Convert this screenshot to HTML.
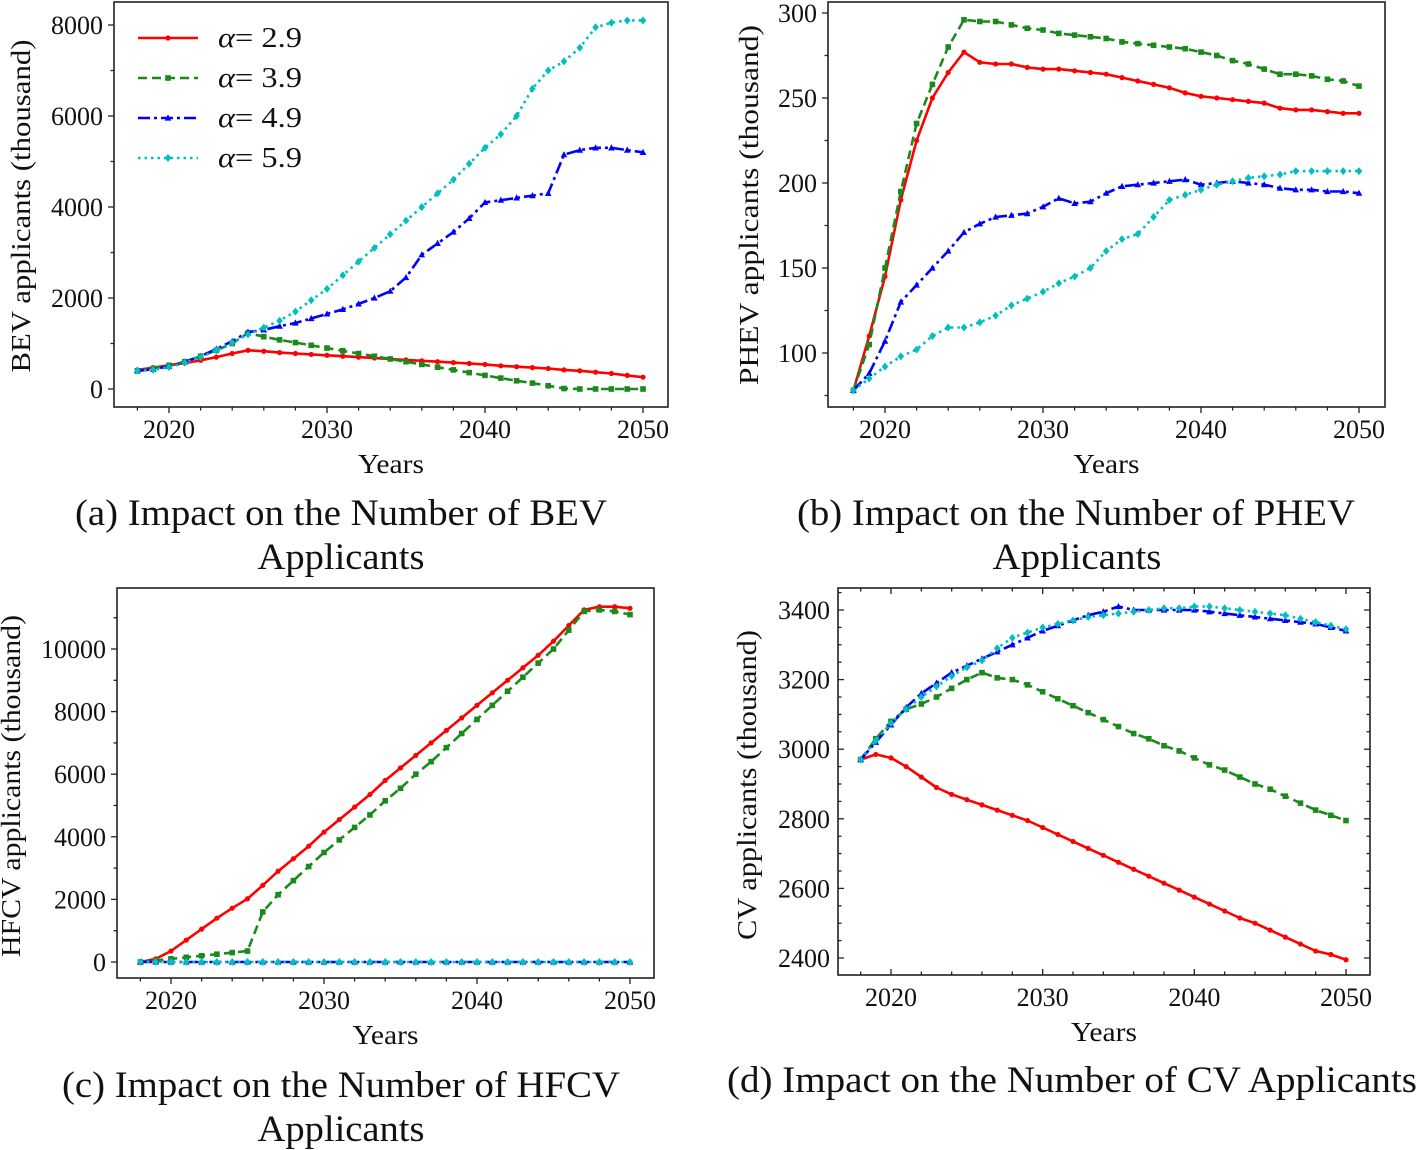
<!DOCTYPE html>
<html><head><meta charset="utf-8"><style>
body{margin:0;background:#fff;width:1417px;height:1150px;overflow:hidden}
svg{display:block}
text{font-family:"Liberation Serif",serif;fill:#111}
.cap{font-size:37px}
</style></head><body>
<svg id="fig" width="1417" height="1150" viewBox="0 0 1417 1150" xmlns="http://www.w3.org/2000/svg">
<text class="cap" x="341" y="525" text-anchor="middle" textLength="532" lengthAdjust="spacingAndGlyphs">(a) Impact on the Number of BEV</text>
<text class="cap" x="341" y="569" text-anchor="middle" textLength="167" lengthAdjust="spacingAndGlyphs">Applicants</text>
<text class="cap" x="1076" y="525" text-anchor="middle" textLength="558" lengthAdjust="spacingAndGlyphs">(b) Impact on the Number of PHEV</text>
<text class="cap" x="1077" y="569" text-anchor="middle" textLength="169" lengthAdjust="spacingAndGlyphs">Applicants</text>
<text class="cap" x="341" y="1097" text-anchor="middle" textLength="558" lengthAdjust="spacingAndGlyphs">(c) Impact on the Number of HFCV</text>
<text class="cap" x="341" y="1141" text-anchor="middle" textLength="167" lengthAdjust="spacingAndGlyphs">Applicants</text>
<text class="cap" x="1072" y="1092" text-anchor="middle" textLength="690" lengthAdjust="spacingAndGlyphs">(d) Impact on the Number of CV Applicants</text>
</svg>
<script>
const years = [];
for (let y = 2018; y <= 2050; y++) years.push(y);
const alphaLabels = ["α= 2.9","α= 3.9","α= 4.9","α= 5.9"];
// Panel (a) BEV
const bevA29 = [420,470,520,570,630,700,780,850,830,800,780,760,740,720,700,680,660,640,620,600,580,560,540,510,490,470,450,420,400,370,340,300,260];
const bevA39 = [400,450,520,600,720,850,1000,1230,1150,1080,1020,960,900,840,780,720,660,600,540,480,420,360,300,240,180,130,70,10,0,0,0,0,0];
const bevA49 = [400,430,500,600,720,880,1050,1250,1300,1380,1450,1550,1650,1750,1870,2000,2150,2450,2950,3200,3450,3750,4100,4150,4200,4250,4300,5150,5250,5300,5300,5250,5200];
const bevA59 = [400,420,480,580,700,850,1020,1200,1350,1500,1700,1950,2200,2500,2800,3100,3400,3700,4000,4300,4600,4950,5300,5600,6000,6600,7000,7200,7500,7950,8050,8100,8100];
const bevYTicks = [0,2000,4000,6000,8000];
// Panel (b) PHEV
const phevA29 = [78,110,145,190,225,250,265,277,271,270,270,268,267,267,266,265,264,262,260,258,256,253,251,250,249,248,247,244,243,243,242,241,241];
const phevA39 = [78,105,150,195,235,258,280,296,295,295,293,291,290,288,287,286,285,283,282,281,280,279,277,275,272,270,267,264,264,263,261,260,257];
const phevA49 = [78,88,107,130,140,150,160,171,176,180,181,182,186,191,188,189,194,198,199,200,201,202,199,200,201,200,199,197,196,196,195,195,194];
const phevA59 = [78,85,92,98,102,110,115,115,118,122,128,132,136,141,145,150,160,167,170,180,190,193,196,199,201,203,204,205,207,207,207,207,207];
const phevYTicks = [100,150,200,250,300];
// Panel (c) HFCV
const hfcvA29 = [0,100,350,700,1050,1400,1720,2020,2450,2900,3300,3700,4150,4550,4950,5350,5800,6200,6600,7000,7400,7800,8200,8600,9000,9400,9800,10250,10750,11250,11350,11350,11300];
const hfcvA39 = [0,50,100,150,200,250,300,350,1600,2150,2600,3050,3500,3900,4300,4700,5150,5550,6000,6400,6850,7300,7750,8200,8650,9100,9550,10000,10600,11200,11250,11200,11100];
const hfcvA49 = [0,0,0,0,0,0,0,0,0,0,0,0,0,0,0,0,0,0,0,0,0,0,0,0,0,0,0,0,0,0,0,0,0];
const hfcvA59 = [0,0,0,0,0,0,0,0,0,0,0,0,0,0,0,0,0,0,0,0,0,0,0,0,0,0,0,0,0,0,0,0,0];
const hfcvYTicks = [0,2000,4000,6000,8000,10000];
// Panel (d) CV
const cvA29 = [2970,2985,2975,2950,2920,2890,2870,2855,2840,2825,2810,2795,2775,2755,2735,2715,2695,2675,2655,2635,2615,2595,2575,2555,2535,2515,2500,2480,2460,2440,2420,2410,2395];
const cvA39 = [2970,3030,3080,3115,3130,3150,3175,3200,3220,3205,3200,3185,3165,3145,3125,3105,3085,3065,3045,3030,3010,2995,2975,2955,2940,2920,2900,2885,2865,2845,2825,2810,2795];
const cvA49 = [2970,3020,3070,3120,3160,3190,3220,3240,3260,3280,3300,3320,3340,3355,3370,3385,3395,3410,3400,3400,3400,3400,3400,3395,3390,3385,3380,3375,3370,3365,3360,3350,3340];
const cvA59 = [2970,3025,3075,3115,3150,3180,3210,3235,3255,3290,3320,3335,3350,3360,3370,3380,3385,3390,3395,3400,3405,3405,3410,3410,3405,3400,3395,3390,3385,3375,3365,3355,3345];
const cvYTicks = [2400,2600,2800,3000,3200,3400];
const xTicks = [2020,2030,2040,2050];

const NS = "http://www.w3.org/2000/svg";
const fig = document.getElementById("fig");
function mk(tag, attrs, parent){const e=document.createElementNS(NS,tag);for(const k in attrs)e.setAttribute(k,attrs[k]);(parent||fig).appendChild(e);return e;}

const styles = [
 {c:"#ff0000",dash:"",m:"circle"},
 {c:"#1a8a1a",dash:"9,5",m:"square"},
 {c:"#0000ff",dash:"12,4,3,4",m:"tri"},
 {c:"#00bfbf",dash:"2.5,4",m:"diamond"}
];

function marker(g, type, x, y, col){
  let e;
  if(type==="circle") e=mk("circle",{cx:x,cy:y,r:2.6,fill:col},g);
  else if(type==="square") e=mk("rect",{x:x-2.8,y:y-2.8,width:5.6,height:5.6,fill:col},g);
  else if(type==="tri") e=mk("polygon",{points:`${x},${y-3.6} ${x-3.3},${y+2.6} ${x+3.3},${y+2.6}`,fill:col},g);
  else e=mk("polygon",{points:`${x},${y-4} ${x+3.3},${y} ${x},${y+4} ${x-3.3},${y}`,fill:col},g);
  
  
}

function panel(p){
  const g=mk("g",{});
  
  
  const sx=v=>p.x0+(v-2020)*(p.x1-p.x0)/30;
  const sy=v=>p.yb0+(v-p.yt[0])*(p.yb1-p.yb0)/(p.yt[p.yt.length-1]-p.yt[0]);
  const frame=mk("rect",{x:p.L,y:p.T,width:p.R-p.L,height:p.B-p.T,fill:"none",stroke:"#222","stroke-width":1.6},g);
  
  
  const dir=p.inward?-1:1;
  for(let yr=2018;yr<=2050;yr+=2){
    const x=sx(yr), maj=xTicks.includes(yr), len=maj?6:3.5;
    mk("line",{x1:x,y1:p.B,x2:x,y2:p.B+dir*len,stroke:"#222","stroke-width":1.3},g);
    if(p.inward) mk("line",{x1:x,y1:p.T,x2:x,y2:p.T+len,stroke:"#222","stroke-width":1.3},g);
  }
  xTicks.forEach(v=>{const t=mk("text",{x:sx(v),y:p.B+31,"text-anchor":"middle","font-size":26},g);t.textContent=v;
    });
  const step=p.yt[1]-p.yt[0], mstep=step/p.ym;
  for(let v=p.yt[0]-mstep*p.ym;v<=p.yt[p.yt.length-1]+step;v+=mstep){
    const y=sy(v); if(y<p.T+1||y>p.B-1) continue;
    const maj=Math.abs(((v-p.yt[0])/step)-Math.round((v-p.yt[0])/step))<1e-6, len=maj?6:3.5;
    mk("line",{x1:p.L,y1:y,x2:p.L-dir*len,y2:y,stroke:"#222","stroke-width":1.3},g);
    if(p.inward) mk("line",{x1:p.R,y1:y,x2:p.R-len,y2:y,stroke:"#222","stroke-width":1.3},g);
  }
  p.yt.forEach(v=>{const t=mk("text",{x:p.L-(p.inward?8:11),y:sy(v)+9,"text-anchor":"end","font-size":26},g);t.textContent=v;
    });
  const xl=mk("text",{x:(p.L+p.R)/2,y:p.B+66,"text-anchor":"middle","font-size":27,textLength:66,lengthAdjust:"spacingAndGlyphs"},g);xl.textContent="Years";
  
  const yl=mk("text",{x:0,y:0,"text-anchor":"middle","font-size":27,textLength:p.yll,lengthAdjust:"spacingAndGlyphs",transform:`translate(${p.ylx},${p.ylc}) rotate(-90)`},g);yl.textContent=p.ylabel;
  
  p.series.forEach((s,i)=>{
    const st=styles[i];
    const pts=years.map((yr,k)=>sx(yr).toFixed(1)+","+sy(s[k]).toFixed(1)).join(" ");
    const l=mk("polyline",{points:pts,fill:"none",stroke:st.c,"stroke-width":2.6,"stroke-dasharray":st.dash,"stroke-linejoin":"round"},g);
    
    
    years.forEach((yr,k)=>marker(g,st.m,sx(yr),sy(s[k]),st.c));
  });
  if(p.legend){
    alphaLabels.forEach((lab,i)=>{
      const st=styles[i], y=38+i*40;
      const lg=mk("g",{},g);
      
      
      mk("line",{x1:138,y1:y,x2:198,y2:y,stroke:st.c,"stroke-width":2.6,"stroke-dasharray":st.dash},lg);
      marker(lg,st.m,168,y,st.c);
      const t=mk("text",{x:218,y:y+9,"font-size":28,textLength:84,lengthAdjust:"spacingAndGlyphs"},lg);
      t.innerHTML=`<tspan font-style="italic">α</tspan>= ${lab.split("= ")[1]}`;
    });
  }
}

panel({name:"bev-chart",L:114,R:668,T:2,B:407,x0:169,x1:643,yt:bevYTicks,yb0:389,yb1:25,ym:2,ylx:30,ylc:206,yll:333,ylabel:"BEV applicants (thousand)",series:[bevA29,bevA39,bevA49,bevA59],legend:true});
panel({name:"phev-chart",L:828,R:1385,T:2,B:407,x0:885,x1:1359,yt:phevYTicks,yb0:353,yb1:13,ym:2,ylx:758,ylc:205,yll:360,ylabel:"PHEV applicants (thousand)",series:[phevA29,phevA39,phevA49,phevA59]});
panel({name:"hfcv-chart",L:117,R:654,T:588,B:978,x0:171,x1:630,yt:hfcvYTicks,yb0:962,yb1:649,ym:2,ylx:20,ylc:786,yll:342,ylabel:"HFCV applicants (thousand)",series:[hfcvA29,hfcvA39,hfcvA49,hfcvA59]});
panel({name:"cv-chart",L:838,R:1370,T:588,B:975,x0:891,x1:1346,yt:cvYTicks,yb0:958,yb1:610,ym:4,ylx:756,ylc:785,yll:310,ylabel:"CV applicants (thousand)",series:[cvA29,cvA39,cvA49,cvA59],inward:true});
</script>
</body></html>
